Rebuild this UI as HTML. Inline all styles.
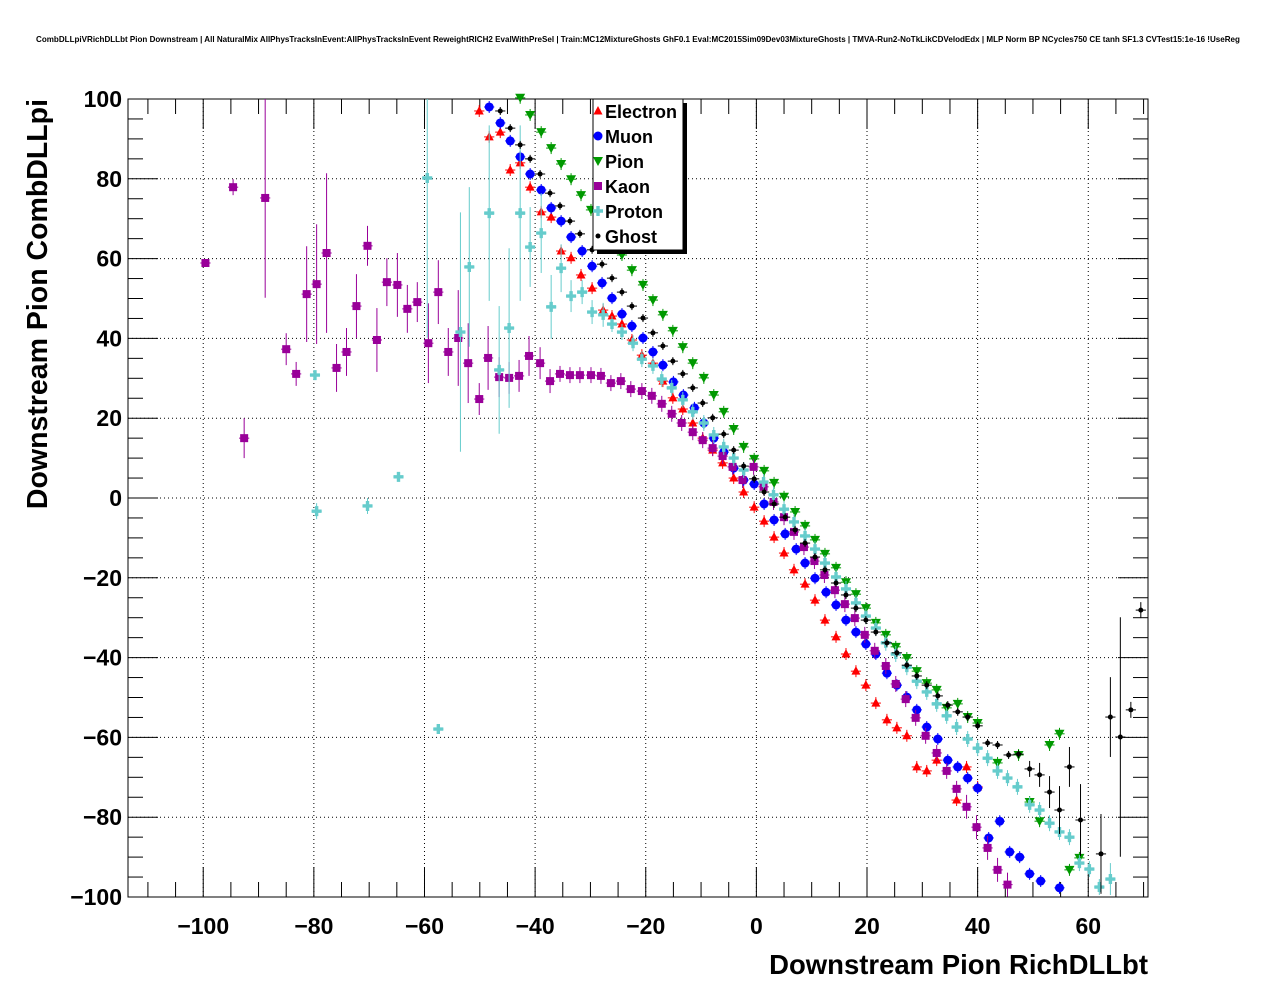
<!DOCTYPE html>
<html><head><meta charset="utf-8"><style>
body{margin:0;background:#fff;}
svg text{font-family:"Liberation Sans",Arial,sans-serif;font-weight:bold;}
</style></head><body>
<svg id="chart" width="1276" height="996" xmlns="http://www.w3.org/2000/svg">
<rect width="1276" height="996" fill="#fff"/>
<text x="638" y="42" font-size="8.05" text-anchor="middle">CombDLLpiVRichDLLbt Pion Downstream | All NaturalMix AllPhysTracksInEvent:AllPhysTracksInEvent ReweightRICH2 EvalWithPreSel | Train:MC12MixtureGhosts GhF0.1 Eval:MC2015Sim09Dev03MixtureGhosts | TMVA-Run2-NoTkLikCDVelodEdx | MLP Norm BP NCycles750 CE tanh SF1.3 CVTest15:1e-16 !UseReg</text>
<g id="grid"></g>
<g id="axes"></g>
<g id="marks"></g>
<text x="1148" y="974" font-size="27.5" text-anchor="end">Downstream Pion RichDLLbt</text>
<text transform="translate(47,99) rotate(-90)" font-size="28.5" text-anchor="end">Downstream Pion CombDLLpi</text>
<g id="legend"></g>
</svg>
<script>
const xTicks=[-100,-80,-60,-40,-20,0,20,40,60];
const yTicks=[-100,-80,-60,-40,-20,0,20,40,60,80,100];
const elecX=[-50.1,-48.3,-46.3,-44.5,-42.7,-40.9,-38.9,-37.1,-35.3,-33.5,-31.7,-29.7,-27.7,-26.1,-24.3,-22.5,-20.7,-18.7,-16.9,-15.1,-13.3,-11.5,-9.7,-7.9,-6.1,-4.1,-2.3,-0.4,1.4,3.2,5.0,6.8,8.8,10.6,12.4,14.4,16.2,18.0,19.8,21.6,23.6,25.4,27.2,29.0,30.8,32.6,36.2,38.0,40.0];
const elecY=[97,90.5,91.7,82.2,84,77.9,71.7,70.4,61.9,60.2,55.9,52.6,47.1,45.6,43.6,39.6,35.8,33.8,29.3,25.1,22.3,18.8,15,12,8.8,5,1.5,-2.3,-5.8,-9.8,-13.8,-18,-21.6,-25.6,-30.6,-34.8,-39.1,-43.4,-46.9,-51.4,-55.6,-57.6,-59.6,-67.4,-68.4,-65.7,-75.7,-67.4,-72.4];
const muonX=[-48.3,-46.3,-44.5,-42.7,-40.9,-38.9,-37.1,-35.3,-33.5,-31.5,-29.7,-27.9,-26.1,-24.3,-22.5,-20.5,-18.7,-16.9,-15,-13.2,-11.2,-9.5,-7.7,-5.9,-4.1,-2.3,-0.4,1.4,3.2,5.2,7.2,8.8,10.6,12.6,14.4,16.2,18,19.8,21.6,23.6,25.4,27.2,29,30.8,32.8,34.6,36.4,38.2,40,42,44,45.8,47.6,49.4,51.4,54.8];
const muonY=[98,94,89.5,85.5,81.2,77.2,72.7,69.4,65.4,61.9,58.1,53.9,50.1,46.1,43.1,40.1,36.6,33.3,29.1,25.8,22.6,18.8,15,11.5,7.5,4.5,3.5,-1.5,-5.5,-9,-12.8,-16.3,-20.1,-23.6,-26.8,-30.6,-33.6,-36.6,-39.1,-43.9,-46.9,-49.9,-53.1,-57.4,-60.4,-65.7,-67.4,-70.2,-72.7,-85.2,-81,-88.7,-90,-94.2,-96,-97.7];
const pionX=[-42.7,-40.9,-38.9,-37.1,-35.3,-33.5,-31.7,-29.9,-24.3,-22.5,-20.5,-18.7,-16.9,-15.1,-13.3,-11.5,-9.5,-7.7,-5.9,-4.1,-2.3,-0.4,1.4,3.2,5.0,7.0,8.8,10.6,12.4,14.4,16.2,18.0,19.8,21.6,23.4,25.2,27.2,29.0,30.8,32.6,34.4,36.4,38.2,40.0,43.6,47.4,49.4,51.2,53.0,54.8,56.6,58.4];
const pionY=[100.3,96,91.7,87.7,83.7,79.9,75.9,72.2,60.9,57.1,53.4,49.6,45.9,41.9,37.8,33.8,30.1,25.8,21.6,17.3,12.8,9.8,6.8,3.8,0.3,-3.5,-7,-10.5,-14,-17.5,-21.1,-24.1,-27.6,-31.3,-34.3,-37.3,-40.1,-43.4,-46.4,-48.1,-52.6,-51.6,-54.9,-56.4,-66.4,-64.4,-76.2,-81,-61.9,-59.1,-93.2,-90.2];
const kaonX=[-99.6,-94.6,-92.6,-88.8,-85.0,-83.2,-81.3,-79.5,-77.7,-75.9,-74.1,-72.3,-70.3,-68.6,-66.8,-64.9,-63.1,-61.3,-59.3,-57.5,-55.7,-53.9,-52.1,-50.1,-48.5,-46.5,-44.7,-42.9,-41.1,-39.1,-37.3,-35.5,-33.7,-31.9,-29.9,-28.1,-26.3,-24.5,-22.7,-20.7,-18.9,-17.1,-15.3,-13.5,-11.5,-9.7,-7.9,-6.1,-4.3,-2.5,-0.5,1.3,3.1,5.0,6.8,8.6,10.5,12.3,14.2,16.0,17.8,19.6,21.4,23.4,25.2,27.0,28.8,30.6,32.6,34.4,36.2,38.0,39.8,41.8,43.6,45.4];
const kaonY=[58.9,77.9,15,75.2,37.3,31.1,51.1,53.6,61.4,32.6,36.6,48.1,63.2,39.6,54.1,53.4,47.4,49.1,38.8,51.6,36.6,40.1,33.8,24.8,35.1,30.3,30.1,30.6,35.6,33.8,29.3,31.1,30.8,30.8,30.8,30.6,28.8,29.3,27.3,26.8,25.6,23.6,21.1,18.8,16.5,14.5,12.5,10.5,7.8,4.5,7.8,2.8,-1,-4.8,-8.5,-12.3,-15.8,-19.3,-23.1,-26.6,-30.1,-34.3,-38.3,-42.1,-46.6,-50.4,-55.1,-59.6,-63.9,-68.4,-72.9,-77.4,-82.5,-87.7,-93.2,-96.9];
const kaonErr=[1,2,5,25,4,3,12,15,20,6,6,8,5,8,6,8,6,5,10,8,6,12,10,4,8,5,4,4,5,4,3,2,2,2,2,2,2,2,2,2,2,2,2,2,2,2,2,2,2,2,2,2,2,2,2,2,2,2,2,2,2,2,2,2,2,2,2,2,2,2,2,3,3,3,3,3];
const protX=[-79.8,-79.5,-70.3,-64.7,-59.5,-57.5,-53.5,-51.9,-48.3,-46.5,-44.7,-42.7,-40.9,-38.9,-37.1,-35.3,-33.5,-31.5,-29.7,-27.7,-26.1,-24.3,-22.3,-20.7,-18.7,-17.1,-15.3,-13.3,-11.5,-9.5,-7.7,-5.9,-4.1,-2.3,1.3,3.1,5.0,6.8,8.8,10.6,12.4,14.4,16.2,18.0,19.8,21.6,23.4,25.2,27.2,29.0,30.8,32.6,34.4,36.2,38.2,40.0,41.8,43.6,45.4,47.2,49.4,51.2,53.0,54.8,56.6,58.4,60.2,62.0,64.0];
const protY=[30.8,-3.3,-2,5.3,80.2,-57.9,41.6,57.9,71.4,32.1,42.6,71.4,62.9,66.4,47.9,57.6,50.6,51.6,46.6,45.9,43.6,41.6,38.8,34.8,33.1,29.8,27.6,24.6,21.6,18.8,15.8,12.8,10,7,4,0.8,-2.8,-6,-9.5,-12.8,-16.3,-19.8,-22.8,-26.3,-29.6,-32.6,-36.3,-39.1,-42.4,-45.9,-48.6,-51.6,-54.6,-57.4,-60.4,-62.7,-65.2,-68.4,-70.2,-72.4,-76.9,-78.2,-81.5,-83.7,-85,-91.5,-93,-97.5,-95.5];
const protErr=[1,2,2,1,40,1,30,20,22,16,20,22,10,10,8,6,4,3,3,3,2,2,2,2,2,2,2,2,2,2,2,2,2,2,2,2,2,2,2,2,2,2,2,2,2,2,2,2,2,2,2,2,2,2,2,2,2,2,2,2,2,2,2,2,2,2,2,2,4];
const ghostX=[-46.3,-44.5,-42.7,-40.9,-39.1,-37.3,-35.5,-33.7,-31.9,-29.7,-27.9,-26.1,-24.3,-22.5,-20.5,-18.7,-16.9,-15.1,-13.3,-11.5,-9.7,-7.9,-5.9,-4.1,-2.3,-0.4,1.4,3.2,5.2,7.0,8.8,10.6,12.4,14.4,16.2,18.0,19.8,21.6,23.6,25.4,27.2,29.0,30.8,32.8,34.6,36.4,38.2,40.0,41.8,43.6,45.6,47.4,49.4,51.2,53.0,54.8,56.6,58.6,62.3,64.0,65.8,67.7,69.5];
const ghostY=[97,92.7,88.5,85,81.2,76.4,73.2,69.4,66.2,62.2,58.6,55.1,51.6,48.1,45.1,41.4,38.1,34.3,31.1,27.6,23.8,20.1,16,12,8,4.8,1.5,-1.5,-4.8,-8,-11.3,-14.8,-18,-21.3,-24.3,-27.6,-30.6,-33.6,-36.3,-38.8,-41.9,-44.6,-46.9,-49.6,-51.9,-53.6,-54.9,-57.1,-61.4,-61.9,-64.4,-64.2,-67.9,-69.4,-73.7,-78.2,-67.4,-80.7,-89.2,-54.9,-59.9,-53.1,-28.1];
const ghostErr=[1,1,1,1,1,1,1,1,1,1,1,1,1,1,1,1,1,1,1,1,1,1,1,1,1,1,1,1,1,1,1,1,1,1,1,1,1,1,1,1,1,1,1,1,1,1,1,1,1,1,1,1,2,3,4,6,5,9,10,10,30,2,2];
const NS='http://www.w3.org/2000/svg';
const X0=128,X1=1148,Y0=99,Y1=897,XMIN=-113.6,XMAX=70.8;
function sx(v){return X0+(v-XMIN)/(XMAX-XMIN)*(X1-X0);}
function sy(v){return Y1-(v+100)/200*(Y1-Y0);}
function mk(tag,at,parent){const e=document.createElementNS(NS,tag);for(const k in at)e.setAttribute(k,at[k]);parent.appendChild(e);return e;}
const grid=document.getElementById('grid'),axes=document.getElementById('axes'),marks=document.getElementById('marks'),leg=document.getElementById('legend');
xTicks.forEach(t=>{const g=mk('line',{x1:sx(t),x2:sx(t),y1:Y0,y2:Y1,stroke:'#000','stroke-width':1,'stroke-dasharray':'1,3'},grid);

const l=mk('text',{x:sx(t),y:Y1+37,'font-size':23,'text-anchor':'middle'},axes);l.textContent=t<0?'\u2212'+(-t):t;
});
yTicks.forEach(t=>{if(t>-100&&t<100){const g=mk('line',{x1:X0,x2:X1,y1:sy(t),y2:sy(t),stroke:'#000','stroke-width':1,'stroke-dasharray':'1,3'},grid);
}
const l=mk('text',{x:X0-6,y:sy(t)+8,'font-size':23,'text-anchor':'end'},axes);l.textContent=t<0?'\u2212'+(-t):t;
});
const fr=mk('rect',{x:X0,y:Y0,width:X1-X0,height:Y1-Y0,fill:'none',stroke:'#000','stroke-width':1},axes);

for(let v=-110;v<=70;v+=5){const big=v%20===0;const L=big?30:15;
mk('line',{x1:sx(v),x2:sx(v),y1:Y1,y2:Y1-L,stroke:'#000'},axes);mk('line',{x1:sx(v),x2:sx(v),y1:Y0,y2:Y0+L,stroke:'#000'},axes);}
for(let v=-100;v<=100;v+=5){const big=v%20===0;const L=big?30:15;
mk('line',{x1:X0,x2:X0+L,y1:sy(v),y2:sy(v),stroke:'#000'},axes);mk('line',{x1:X1,x2:X1-L,y1:sy(v),y2:sy(v),stroke:'#000'},axes);}
function marker(kind,col,cx,cy,par){let e;
if(kind==='tri')e=mk('polygon',{points:`${cx},${cy-5} ${cx-4.5},${cy+3.5} ${cx+4.5},${cy+3.5}`,fill:col},par);
else if(kind==='circ')e=mk('circle',{cx:cx,cy:cy,r:4.5,fill:col},par);
else if(kind==='tridn')e=mk('polygon',{points:`${cx-5},${cy-4} ${cx+5},${cy-4} ${cx},${cy+5}`,fill:col},par);
else if(kind==='sq')e=mk('rect',{x:cx-4,y:cy-4,width:8,height:8,fill:col},par);
else if(kind==='cross')e=mk('path',{d:`M${cx-5},${cy-1.7}h3.3v-3.3h3.4v3.3h3.3v3.4h-3.3v3.3h-3.4v-3.3h-3.3z`,fill:col},par);
else e=mk('circle',{cx:cx,cy:cy,r:2.5,fill:col},par);
return e;}
const series=[
{name:'Electron',xs:elecX,ys:elecY,err:null,col:'#ff0000',kind:'tri'},
{name:'Muon',xs:muonX,ys:muonY,err:null,col:'#0000ff',kind:'circ'},
{name:'Pion',xs:pionX,ys:pionY,err:null,col:'#009900',kind:'tridn'},
{name:'Kaon',xs:kaonX,ys:kaonY,err:kaonErr,col:'#990099',kind:'sq'},
{name:'Proton',xs:protX,ys:protY,err:protErr,col:'#66cccc',kind:'cross'},
{name:'Ghost',xs:ghostX,ys:ghostY,err:ghostErr,col:'#000000',kind:'dot'}];
series.forEach(s=>{const g=mk('g',{},marks);

s.xs.forEach((x,i)=>{const y=s.ys[i];if(y===undefined||y>101||y<-101)return;
const cx=sx(x),cy=sy(y);const e=s.err?s.err[i]||1.5:1.5;
mk('line',{x1:sx(x-0.92),x2:sx(x+0.92),y1:cy,y2:cy,stroke:s.col,'stroke-width':1},g);
mk('line',{x1:cx,x2:cx,y1:Math.max(Y0,sy(y+e)),y2:Math.min(Y1,sy(y-e)),stroke:s.col,'stroke-width':1},g);
const m=marker(s.kind,s.col,cx,cy,g);

});});
mk('rect',{x:597,y:103,width:90,height:151,fill:'#000'},leg);
mk('rect',{x:593,y:99,width:90,height:151,fill:'#fff',stroke:'#000','stroke-width':1},leg);
series.forEach((s,i)=>{const y=111+i*25;const g=mk('g',{},leg);

marker(s.kind,s.col,598,y,g);
const t=mk('text',{x:605,y:y+7,'font-size':18},g);t.textContent=s.name;});
</script>
</body></html>
